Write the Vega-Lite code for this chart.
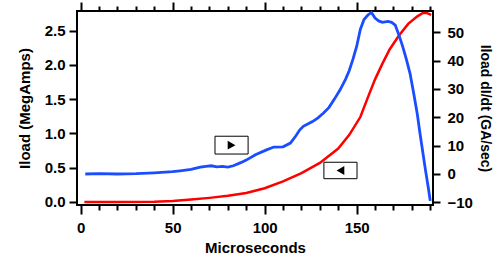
{
  "$schema": "https://vega.github.io/schema/vega-lite/v6.json",
  "width": 356,
  "height": 194,
  "autosize": {"type": "none"},
  "padding": {"left": 77, "top": 11, "right": 65, "bottom": 57},
  "background": "white",
  "config": {
    "view": {"stroke": "black", "strokeWidth": 2},
    "axis": {
      "domain": false,
      "grid": false,
      "tickColor": "black",
      "tickWidth": 2,
      "labelFont": "Liberation Sans",
      "labelFontWeight": "bold",
      "labelFontSize": 15,
      "labelColor": "black",
      "titleFont": "Liberation Sans",
      "titleFontWeight": "bold",
      "titleFontSize": 15,
      "titleColor": "black"
    }
  },
  "datasets": {
    "current": [
      {"t": 2, "I": 0}, {"t": 20, "I": 0}, {"t": 40, "I": 0.005}, {"t": 50, "I": 0.015},
      {"t": 60, "I": 0.035}, {"t": 70, "I": 0.06}, {"t": 80, "I": 0.09}, {"t": 90, "I": 0.13},
      {"t": 100, "I": 0.2}, {"t": 110, "I": 0.3}, {"t": 120, "I": 0.42}, {"t": 130, "I": 0.57},
      {"t": 140, "I": 0.78}, {"t": 146, "I": 0.98}, {"t": 152, "I": 1.24}, {"t": 156, "I": 1.52},
      {"t": 160, "I": 1.79}, {"t": 164, "I": 2.02}, {"t": 168, "I": 2.23}, {"t": 173, "I": 2.43},
      {"t": 178, "I": 2.6}, {"t": 183, "I": 2.71}, {"t": 186, "I": 2.76}, {"t": 188, "I": 2.76},
      {"t": 190.5, "I": 2.73}
    ],
    "deriv": [
      {"t": 2.5, "v": 0}, {"t": 10, "v": 0.1}, {"t": 20, "v": 0}, {"t": 30, "v": 0.1},
      {"t": 40, "v": 0.4}, {"t": 50, "v": 0.8}, {"t": 54, "v": 1.1}, {"t": 60, "v": 1.6},
      {"t": 65, "v": 2.4}, {"t": 68, "v": 2.7}, {"t": 71, "v": 2.9}, {"t": 74, "v": 2.5},
      {"t": 77, "v": 2.7}, {"t": 80, "v": 2.4}, {"t": 83, "v": 2.9}, {"t": 87, "v": 4.0},
      {"t": 90, "v": 4.9}, {"t": 95, "v": 6.8}, {"t": 101, "v": 8.5}, {"t": 105, "v": 9.5},
      {"t": 110, "v": 9.6}, {"t": 114, "v": 10.9}, {"t": 117, "v": 13.5}, {"t": 119, "v": 15.5},
      {"t": 121, "v": 16.8}, {"t": 126, "v": 18.5}, {"t": 129, "v": 19.8}, {"t": 132, "v": 21.5},
      {"t": 135, "v": 23.5}, {"t": 138, "v": 26.5}, {"t": 141, "v": 29.7}, {"t": 144, "v": 33.5},
      {"t": 146, "v": 36.5}, {"t": 148, "v": 40.5}, {"t": 150, "v": 45}, {"t": 152, "v": 51},
      {"t": 154, "v": 54.5}, {"t": 156, "v": 56}, {"t": 158, "v": 57}, {"t": 160, "v": 55},
      {"t": 162, "v": 54}, {"t": 164, "v": 53.5}, {"t": 167, "v": 53.8}, {"t": 169, "v": 53.5},
      {"t": 171, "v": 52.5}, {"t": 173, "v": 49}, {"t": 175, "v": 45}, {"t": 177, "v": 40.5},
      {"t": 179, "v": 35.5}, {"t": 181, "v": 28.5}, {"t": 183, "v": 21}, {"t": 184.5, "v": 14},
      {"t": 186, "v": 7.5}, {"t": 187.5, "v": 1}, {"t": 189, "v": -5}, {"t": 190, "v": -9.5}
    ],
    "boxes": [
      {"x1": 73, "x2": 91, "y1": 0.70, "y2": 0.96, "cx": 82, "cy": 0.83, "shape": "triangle-right"},
      {"x1": 132.2, "x2": 150.2, "y1": 0.34, "y2": 0.58, "cx": 141.2, "cy": 0.46, "shape": "triangle-left"}
    ]
  },
  "layer": [
    {
      "data": {"name": "current"},
      "mark": {"type": "line", "color": "#ff0000", "strokeWidth": 2.5},
      "encoding": {
        "x": {
          "field": "t", "type": "quantitative",
          "scale": {"domain": [-2, 191.5], "nice": false, "zero": false},
          "axis": {
            "orient": "bottom",
            "title": "Microseconds",
            "values": [0, 10, 20, 30, 40, 50, 60, 70, 80, 90, 100, 110, 120, 130, 140, 150, 160, 170, 180, 190],
            "labelExpr": "datum.value % 50 === 0 ? datum.label : ''",
            "tickSize": {"condition": {"test": "datum.value % 50 === 0", "value": 9}, "value": 5},
            "labelPadding": 6,
            "titlePadding": 5,
            "labelFlush": false
          }
        },
        "y": {
          "field": "I", "type": "quantitative",
          "scale": {"domain": [-0.044, 2.788], "nice": false, "zero": false},
          "axis": {
            "orient": "left",
            "title": "Iload  (MegAmps)",
            "values": [0, 0.5, 1, 1.5, 2, 2.5],
            "format": ".1f",
            "tickSize": 8,
            "labelPadding": 4,
            "titlePadding": 12
          }
        }
      }
    },
    {
      "data": {"name": "deriv"},
      "mark": {"type": "line", "color": "#1a4dff", "strokeWidth": 2.8},
      "encoding": {
        "x": {
          "field": "t", "type": "quantitative",
          "scale": {"domain": [-2, 191.5], "nice": false, "zero": false},
          "axis": {
            "orient": "top",
            "title": null,
            "labels": false,
            "values": [0, 10, 20, 30, 40, 50, 60, 70, 80, 90, 100, 110, 120, 130, 140, 150, 160, 170, 180, 190],
            "tickSize": {"condition": {"test": "datum.value % 50 === 0", "value": 9}, "value": 5}
          }
        },
        "y": {
          "field": "v", "type": "quantitative",
          "scale": {"domain": [-10.94, 57.5], "nice": false, "zero": false},
          "axis": {
            "orient": "right",
            "title": "Iload  dI/dt (GA/sec)",
            "titleFontSize": 14,
            "values": [-10, 0, 10, 20, 30, 40, 50],
            "tickSize": 7,
            "labelPadding": 7,
            "titlePadding": 5
          }
        }
      }
    },
    {
      "data": {"name": "boxes"},
      "mark": {"type": "rect", "fill": "white", "stroke": "black", "strokeWidth": 1},
      "encoding": {
        "x": {"field": "x1", "type": "quantitative", "scale": {"domain": [-2, 191.5], "nice": false, "zero": false}, "axis": null},
        "x2": {"field": "x2"},
        "y": {"field": "y1", "type": "quantitative", "scale": {"domain": [-0.044, 2.788], "nice": false, "zero": false}, "axis": null},
        "y2": {"field": "y2"}
      }
    },
    {
      "data": {"name": "boxes"},
      "mark": {"type": "point", "filled": true, "color": "black", "size": 80, "opacity": 1},
      "encoding": {
        "x": {"field": "cx", "type": "quantitative", "scale": {"domain": [-2, 191.5], "nice": false, "zero": false}, "axis": null},
        "y": {"field": "cy", "type": "quantitative", "scale": {"domain": [-0.044, 2.788], "nice": false, "zero": false}, "axis": null},
        "shape": {"field": "shape", "type": "nominal", "scale": null, "legend": null}
      }
    }
  ],
  "resolve": {"scale": {"y": "independent"}, "axis": {"x": "independent", "y": "independent"}}
}
